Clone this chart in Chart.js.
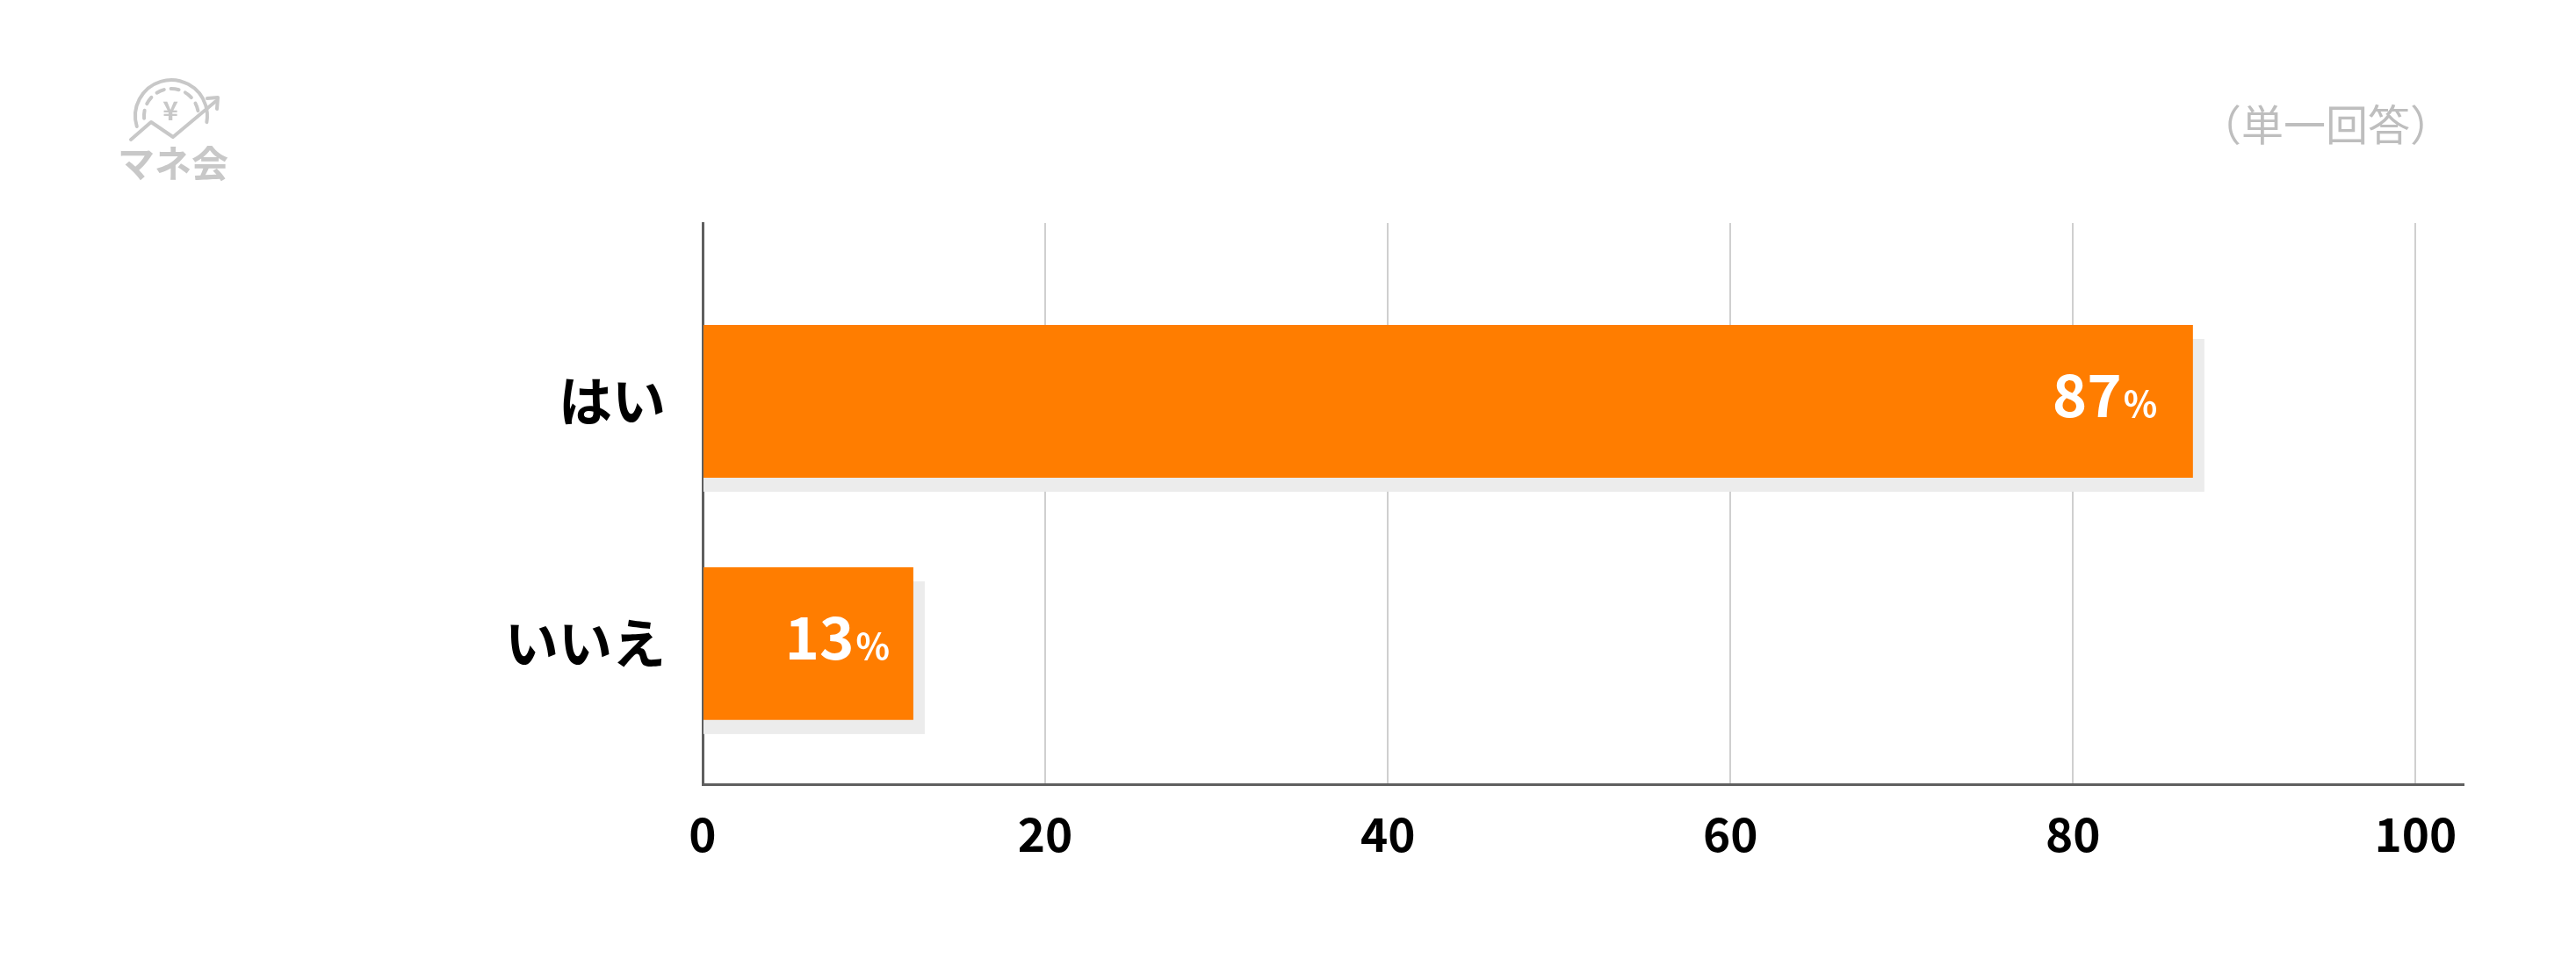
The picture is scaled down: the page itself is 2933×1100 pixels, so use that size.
<!DOCTYPE html>
<html><head><meta charset="utf-8">
<script src="https://cdn.jsdelivr.net/npm/chart.js@4/dist/chart.umd.min.js"></script>
<style>html,body{margin:0;padding:0;background:#fff;}canvas{display:block;}</style>
</head><body>
<canvas id="c" width="2933" height="1100"></canvas>
<script>
// ---- data ----
const categories = ['はい', 'いいえ'];
const barValues = [87, 12.3];
const labelValues = [87, 13];
const xTicks = [0, 20, 40, 60, 80, 100];
const subtitle = '（単一回答）';
const logoText = 'マネ会';

const FONT = '"Noto Sans CJK JP", "Noto Sans", sans-serif';
const ORANGE = '#ff7d00';
const GRAY_LOGO = '#c8c8c8';

const shadowPlugin = {
  id: 'barShadow',
  beforeDatasetsDraw(chart) {
    const ctx = chart.ctx;
    const meta = chart.getDatasetMeta(0);
    ctx.save();
    ctx.fillStyle = '#ececec';
    meta.data.forEach(el => {
      const p = el.getProps(['x', 'y', 'base', 'height'], true);
      ctx.fillRect(p.base, p.y - p.height / 2 + 16, p.x + 13 - p.base, p.height);
    });
    ctx.restore();
  }
};

const labelPlugin = {
  id: 'valueLabels',
  afterDatasetsDraw(chart) {
    const ctx = chart.ctx;
    const xs = chart.scales.x;
    const meta = chart.getDatasetMeta(0);
    ctx.save();
    ctx.fillStyle = '#ffffff';
    ctx.textAlign = 'right';
    ctx.textBaseline = 'alphabetic';
    meta.data.forEach((el, i) => {
      const p = el.getProps(['y'], true);
      const anchor = xs.getPixelForValue(labelValues[i]) - 40.5;
      const base = p.y + 18;
      ctx.font = 'bold 40px ' + FONT;
      ctx.fillText('%', anchor, base);
      const pw = ctx.measureText('%').width;
      ctx.font = 'bold 67px ' + FONT;
      ctx.fillText(String(labelValues[i]), anchor - pw - 2, base);
    });
    ctx.restore();
  }
};

const decorPlugin = {
  id: 'decor',
  afterDraw(chart) {
    const ctx = chart.ctx;
    ctx.save();
    // subtitle
    ctx.fillStyle = '#bebebe';
    ctx.font = '48px ' + FONT;
    ctx.textAlign = 'right';
    ctx.textBaseline = 'alphabetic';
    ctx.fillText(subtitle, 2792, 160);
    // logo
    ctx.strokeStyle = GRAY_LOGO;
    ctx.fillStyle = GRAY_LOGO;
    ctx.lineWidth = 4;
    ctx.lineCap = 'round';
    ctx.lineJoin = 'round';
    const d = Math.PI / 180;
    ctx.beginPath();
    ctx.arc(195, 132, 41, 163 * d, 370 * d);
    ctx.stroke();
    ctx.setLineDash([9, 8]);
    ctx.beginPath();
    ctx.arc(195, 132, 31, 175 * d, 358 * d);
    ctx.stroke();
    ctx.setLineDash([]);
    ctx.beginPath();
    ctx.moveTo(149, 159);
    ctx.lineTo(172, 139);
    ctx.lineTo(197, 156);
    ctx.lineTo(246, 115);
    ctx.stroke();
    ctx.beginPath();
    ctx.moveTo(236, 112);
    ctx.lineTo(248, 111);
    ctx.lineTo(247, 124);
    ctx.stroke();
    ctx.font = 'bold 30px ' + FONT;
    ctx.textAlign = 'center';
    ctx.textBaseline = 'middle';
    ctx.fillText('¥', 194, 126);
    ctx.font = 'bold 42px ' + FONT;
    ctx.textBaseline = 'alphabetic';
    ctx.fillText(logoText, 197, 202);
    ctx.restore();
  }
};

const data = {
  datasets: [{
    data: categories.map((c, i) => ({ x: barValues[i], y: i + 1 })),
    backgroundColor: ORANGE,
    borderWidth: 0,
    barPercentage: 0.63,
    categoryPercentage: 1
  }]
};

new Chart(document.getElementById('c'), {
  type: 'bar',
  data,
  options: {
    indexAxis: 'y',
    responsive: false,
    animation: false,
    devicePixelRatio: 1,
    layout: { padding: { top: 254, right: 128, left: 0, bottom: 0 } },
    plugins: { legend: { display: false }, tooltip: { enabled: false }, title: { display: false } },
    scales: {
      x: {
        type: 'linear',
        bounds: 'data',
        offset: false,
        min: 0,
        max: 102.8,
        afterBuildTicks: s => { s.ticks = xTicks.map(v => ({ value: v })); },
        afterFit: s => { s.height = 207; },
        ticks: {
          font: { family: FONT, size: 53, weight: 'bold' },
          color: '#000',
          padding: 25,
          maxRotation: 0,
          autoSkip: false
        },
        grid: { color: '#cfcfcf', lineWidth: 2, drawTicks: false, offset: false },
        border: { display: true, color: '#5f5f5f', width: 3 }
      },
      y: {
        type: 'linear',
        reverse: true,
        bounds: 'data',
        offset: false,
        min: 0.2645,
        max: 2.58,
        z: 1,
        afterBuildTicks: s => { s.ticks = categories.map((c, i) => ({ value: i + 1 })); },
        afterFit: s => { s.width = 800; },
        ticks: {
          callback: v => categories[Math.round(v) - 1],
          font: { family: FONT, size: 61, weight: 'bold' },
          color: '#000',
          padding: 42,
          autoSkip: false
        },
        grid: { display: false, drawTicks: false, offset: false },
        border: { display: true, color: '#5f5f5f', width: 3 }
      }
    }
  },
  plugins: [shadowPlugin, labelPlugin, decorPlugin]
});
</script>
</body></html>
